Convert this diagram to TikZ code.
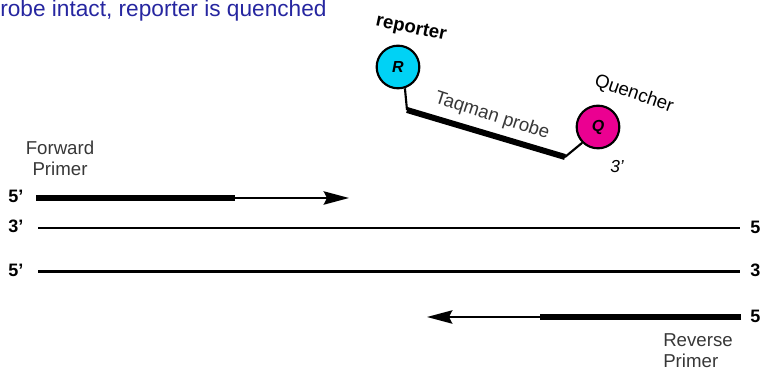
\documentclass[tikz,border=0pt]{standalone}
\usepackage{fontspec}
\setmainfont{Liberation Sans}
\usetikzlibrary{arrows.meta}
\definecolor{titleblue}{RGB}{38,38,160}
\definecolor{repcyan}{RGB}{0,210,245}
\definecolor{quemag}{RGB}{235,0,145}
\definecolor{lblgray}{RGB}{55,55,55}
\begin{document}
\begin{tikzpicture}[x=0.75pt,y=-0.75pt,
  strand/.style={line width=1.7pt},
  primer/.style={line width=4pt},
  shaft/.style={line width=1.6pt,-{Stealth[length=19pt,width=10pt,inset=2.5pt]}},
  endlbl/.style={font=\bfseries\fontsize{13.5}{13.5}\selectfont,anchor=base west,inner sep=0pt},
  plainlbl/.style={font=\fontsize{14}{15.5}\selectfont,text=lblgray,inner sep=0pt},
  dye/.style={circle,draw=black,line width=1.6pt,minimum size=32pt,inner sep=0pt,
    font=\bfseries\itshape\fontsize{12}{12}\selectfont},
  stem/.style={line width=1.6pt},
  probe/.style={line width=4.5pt}
]
\useasboundingbox (0,0) rectangle (765,377);

% title
\node[anchor=base west,inner sep=0pt,text=titleblue,font=\fontsize{17}{18}\selectfont]
  (title) at (0,17) {robe intact, reporter is quenched};

% probe
\node[dye,fill=repcyan] (R) at (398,67) {R};
\node[dye,fill=quemag] (Q) at (598,127) {Q};
\coordinate (p1) at (407,110);
\coordinate (p2) at (565,157);
\draw[stem] (R.-72) -- (p1);
\draw[probe] (p1) -- (p2);
\draw[stem] (p2) -- (Q.-135);
\node[font=\bfseries\fontsize{14}{14}\selectfont,rotate=-12,inner sep=0pt] (replbl) at (411,29) {reporter};
\node[font=\fontsize{14}{14}\selectfont,rotate=-19,inner sep=0pt] (quelbl) at (634,94) {Quencher};
\node[plainlbl,rotate=-18] (taq) at (492,116) {Taqman probe};
\node[font=\itshape\fontsize{13}{13}\selectfont,inner sep=0pt] (three) at (617,167) {3'};

% forward primer
\node[plainlbl,align=center] (fwd) at (60,158) {Forward\\Primer};
\coordinate (f0) at (36,198);
\coordinate (f1) at (235,198);
\coordinate (f2) at (349,198);
\draw[primer] (f0) -- (f1);
\draw[shaft] (f1) -- (f2);
\node[endlbl] (l1) at (8,203) {5'};

% template strands
\coordinate (t1a) at (38,228);
\coordinate (t1b) at (740,228);
\coordinate (t2a) at (38,271.5);
\coordinate (t2b) at (740,271.5);
\draw[strand] (t1a) -- (t1b);
\draw[strand] (t2a) -- (t2b);
\node[endlbl] (l2) at (8,233) {3'};
\node[endlbl] (l3) at (8,276.5) {5'};
\node[endlbl] (r1) at (750,233.5) {5};
\node[endlbl] (r2) at (750,277) {3};

% reverse primer
\coordinate (rv0) at (741,317);
\coordinate (rv1) at (540,317);
\coordinate (rv2) at (427,317);
\draw[primer] (rv0) -- (rv1);
\draw[shaft] (rv1) -- (rv2);
\node[endlbl] (r3) at (750,322.5) {5};
\node[plainlbl,align=left,anchor=west] (rev) at (663,351) {Reverse\\Primer};
\end{tikzpicture}
\end{document}
